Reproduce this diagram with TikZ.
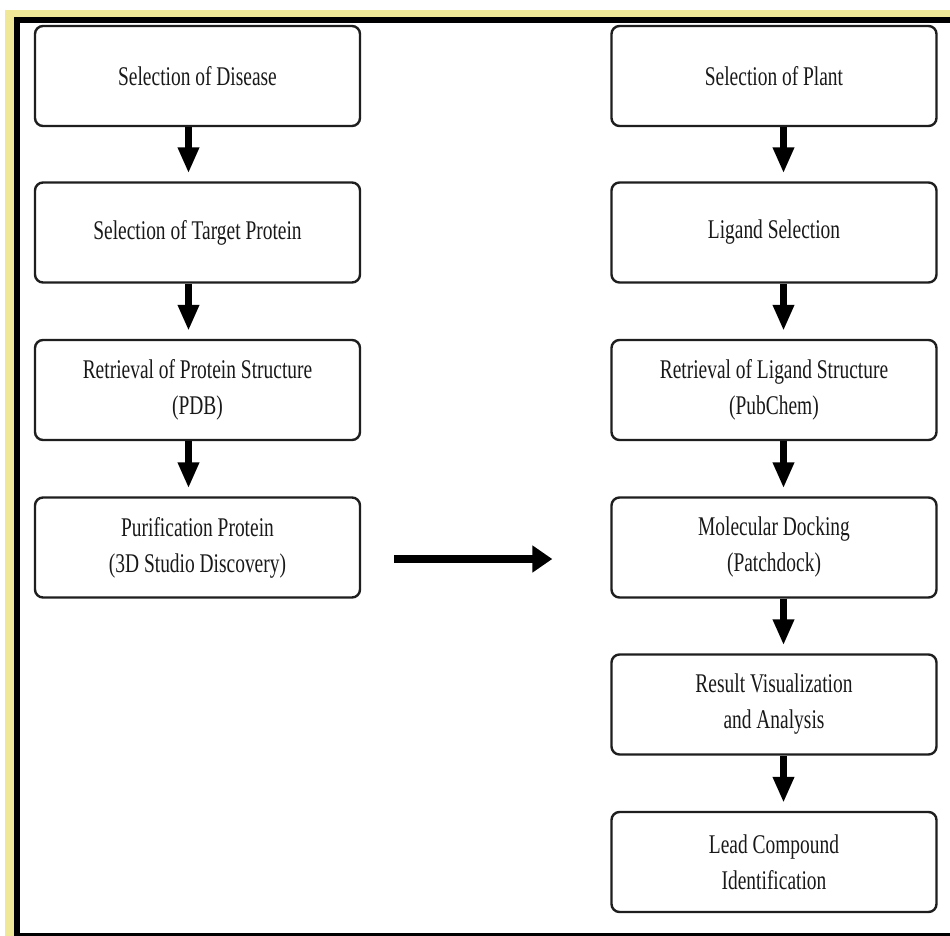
\documentclass[tikz,border=0pt]{standalone}
\usepackage{fontspec}
\setmainfont{Liberation Serif}[FakeStretch=0.72]
\usetikzlibrary{arrows.meta}
\definecolor{glow}{RGB}{240,232,150}
\definecolor{boxline}{RGB}{30,30,30}
\tikzset{
  stage/.style={draw=boxline, line width=2.4pt, rounded corners=8pt, fill=white,
    minimum width=325pt, minimum height=100pt, align=center, inner sep=0pt,
    font=\fontsize{27}{36}\selectfont, text=black!90},
  downarrow/.style={line width=7pt, -{Triangle[length=26pt,width=20pt]}, shorten >=8pt},
  sidearrow/.style={line width=8pt, -{Triangle[length=20pt,width=26pt]}}
}
\begin{document}
\begin{tikzpicture}[x=1pt, y=-1pt]
\useasboundingbox (0,0) rectangle (950,936);
% outer frame with pale yellow glow
\fill[glow] (5,10) rectangle (960,950);
\fill[white] (17,20) rectangle (960,936);
\draw[black, line width=6pt] (970,20) -- (17,20) -- (17,936) -- (970,936);

% left column: target side
\node[stage] (d1) at (197.5,76)    {Selection of Disease};
\node[stage] (d2) at (197.5,232.5) {Selection of Target Protein};
\node[stage] (d3) at (197.5,390)   {Retrieval of Protein Structure\\(PDB)};
\node[stage] (d4) at (197.5,547.5) {Purification Protein\\(3D Studio Discovery)};

% right column: ligand side
\node[stage] (p1) at (774,76)    {Selection of Plant};
\node[stage] (p2) at (774,232.5) {Ligand Selection};
\node[stage] (p3) at (774,390)   {Retrieval of Ligand Structure\\(PubChem)};
\node[stage] (p4) at (774,547.5) {Molecular Docking\\(Patchdock)};
\node[stage] (p5) at (774,704.5) {Result Visualization\\and Analysis};
\node[stage] (p6) at (774,862)   {Lead Compound\\Identification};

% vertical flow arrows
\foreach \a/\b in {d1/d2,d2/d3,d3/d4}
  \draw[downarrow] ([xshift=-9pt]\a.south) -- ([xshift=-9pt]\b.north);
\foreach \a/\b in {p1/p2,p2/p3,p3/p4,p4/p5,p5/p6}
  \draw[downarrow] ([xshift=9.5pt]\a.south) -- ([xshift=9.5pt]\b.north);

% link between the two columns
\draw[sidearrow] ([shift={(33,11.5)}]d4.east) -- ([shift={(-58,11.5)}]p4.west);
\end{tikzpicture}
\end{document}
